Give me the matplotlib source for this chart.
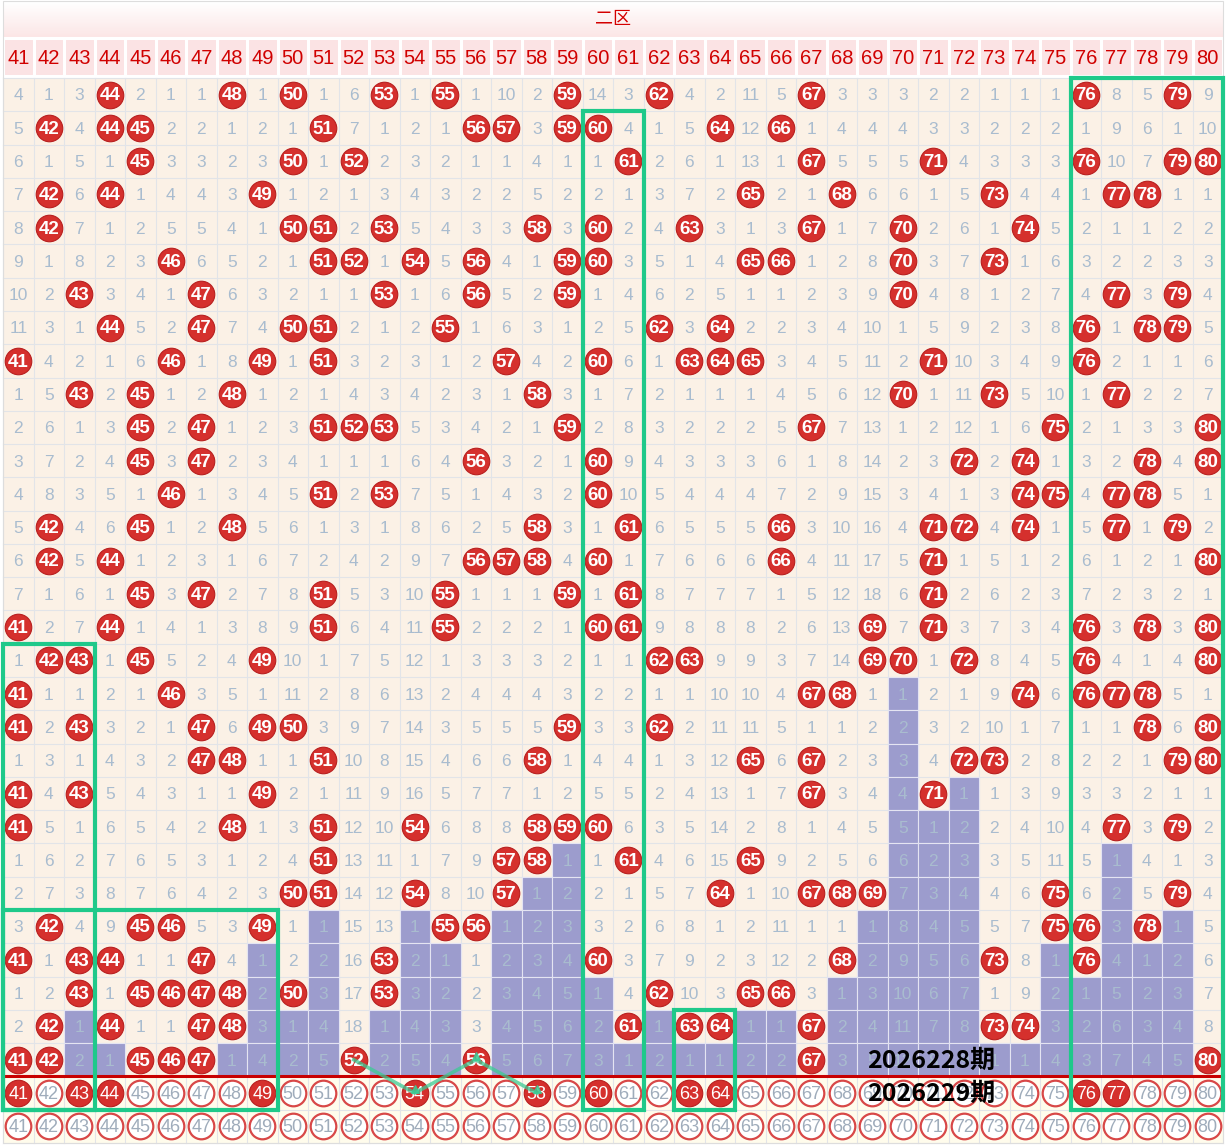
import numpy as np
import matplotlib
matplotlib.use('Agg')
import matplotlib.pyplot as plt
from matplotlib.patches import Rectangle
from matplotlib.colors import LinearSegmentedColormap

# ---------------- data ----------------
NUMBERS = list(range(41, 81))
ZONE_TITLE = '二区'
# omission count of each number just before the first visible draw
PRIOR_MISS = [3, 0, 2, 0, 1, 0, 0, 0, 0, 0,
              0, 5, 0, 0, 0, 0, 9, 1, 0, 13,
              2, 0, 3, 1, 10, 4, 0, 2, 2, 2,
              1, 1, 0, 0, 0, 0, 7, 4, 0, 8]
DRAWS = [
    [44, 48, 50, 53, 55, 59, 62, 67, 76, 79],
    [42, 44, 45, 51, 56, 57, 59, 60, 64, 66],
    [45, 50, 52, 61, 67, 71, 76, 79, 80],
    [42, 44, 49, 65, 68, 73, 77, 78],
    [42, 50, 51, 53, 58, 60, 63, 67, 70, 74],
    [46, 51, 52, 54, 56, 59, 60, 65, 66, 70, 73],
    [43, 47, 53, 56, 59, 70, 77, 79],
    [44, 47, 50, 51, 55, 62, 64, 76, 78, 79],
    [41, 46, 49, 51, 57, 60, 63, 64, 65, 71, 76],
    [43, 45, 48, 58, 70, 73, 77],
    [45, 47, 51, 52, 53, 59, 67, 75, 80],
    [45, 47, 56, 60, 72, 74, 78, 80],
    [46, 51, 53, 60, 74, 75, 77, 78],
    [42, 45, 48, 58, 61, 66, 71, 72, 74, 77, 79],
    [42, 44, 56, 57, 58, 60, 66, 71, 80],
    [45, 47, 51, 55, 59, 61, 71],
    [41, 44, 51, 55, 60, 61, 69, 71, 76, 78, 80],
    [42, 43, 45, 49, 62, 63, 69, 70, 72, 76, 80],
    [41, 46, 67, 68, 74, 76, 77, 78],
    [41, 43, 47, 49, 50, 59, 62, 78, 80],
    [47, 48, 51, 58, 65, 67, 72, 73, 79, 80],
    [41, 43, 49, 67, 71],
    [41, 48, 51, 54, 58, 59, 60, 77, 79],
    [51, 57, 58, 61, 65],
    [50, 51, 54, 57, 64, 67, 68, 69, 75, 79],
    [42, 45, 46, 49, 55, 56, 75, 76, 78],
    [41, 43, 44, 47, 53, 60, 68, 73, 76],
    [43, 45, 46, 47, 48, 50, 53, 62, 65, 66],
    [42, 44, 47, 48, 61, 63, 64, 67, 73, 74],
    [41, 42, 45, 46, 47, 52, 56, 67, 80],
]
NEXT_DRAW = [41, 43, 44, 49, 54, 58, 60, 63, 64, 76, 77]
ISSUE_LABELS = ['2026228期', '2026229期']
LINK_NUMS = [52, 54, 56, 58]
LINK_ROWS = [30, 31, 30, 31]
# highlighted boxes: (first number, last number, first row, last row)
BOXES = [(60, 61, 2, 31), (76, 80, 1, 31), (41, 43, 18, 31),
         (41, 49, 26, 31), (63, 64, 29, 31)]

# ---------------- derived grid ----------------
n_rows = len(DRAWS)
ncol = len(NUMBERS)
miss = np.array(PRIOR_MISS)
vals = np.zeros((n_rows, ncol), int)
hit = np.zeros((n_rows, ncol), bool)
for r, d in enumerate(DRAWS):
    for j, n in enumerate(NUMBERS):
        if n in d:
            miss[j] = 0
            hit[r, j] = True
        else:
            miss[j] += 1
        vals[r, j] = miss[j]
last_hit = [np.where(hit[:, j])[0].max() if hit[:, j].any() else -1 for j in range(ncol)]

# ---------------- styling ----------------
W, H = 1227, 1146
CW, RH = 30.5, 33.28
X0, Y0 = 3, 78
FONT = 'Liberation Sans'
CJK = ['Noto Sans CJK SC', 'DejaVu Sans']
RED = '#D5302D'
GRAY_TXT = '#A9BCCF'
GREEN = '#1FC98A'
LAV = '#9C9CCD'

fig = plt.figure(figsize=(W / 100, H / 100), dpi=100)
fig.patch.set_facecolor('white')
ax = fig.add_axes([0, 0, 1, 1])
ax.axis('off')
xl = (40.5 - X0 / CW, 40.5 + (W - X0) / CW)
yl = (0.5 + (H - Y0) / RH, 0.5 - Y0 / RH)

def py(px):
    return 0.5 + (px - Y0) / RH

first, last = NUMBERS[0] - 0.5, NUMBERS[-1] + 0.5
total_rows = n_rows + 2

# top band gradient
cmap = LinearSegmentedColormap.from_list('band', ['#FFFFFF', '#FCE6E6'])
grad = np.linspace(0, 1, 64).reshape(-1, 1)
ax.imshow(grad, cmap=cmap, extent=(first, last, py(37), py(2)), origin='upper',
          aspect='auto', zorder=0)
ax.text((first + last) / 2, py(19), ZONE_TITLE, ha='center', va='center',
        fontsize=13, color='#D40000', family=CJK, zorder=2)

# column header cells
for n in NUMBERS:
    ax.add_patch(Rectangle((n - 0.5, py(38)), 1, py(76) - py(38), facecolor='#FBE3E4',
                           edgecolor='white', lw=2.2, zorder=1))
    ax.text(n, py(58), str(n), ha='center', va='center', fontsize=14.5,
            color='#D00000', family=FONT, zorder=2)

# body backgrounds
ax.add_patch(Rectangle((first, 0.5), last - first, n_rows, facecolor='#FBF1E6',
                       edgecolor='none', zorder=0))
ax.add_patch(Rectangle((first, n_rows + 0.5), last - first, 2, facecolor='#FFFCEC',
                       edgecolor='none', zorder=0))

# grid lines
for k in range(ncol + 1):
    ax.plot([first + k, first + k], [0.5, total_rows + 0.5], color='#E2E4E8', lw=0.8, zorder=1)
for k in range(total_rows + 1):
    ax.plot([first, last], [0.5 + k, 0.5 + k], color='#E2E4E8', lw=0.8, zorder=1)

# lavender omission bars
for j, n in enumerate(NUMBERS):
    for r in range(last_hit[j] + 1, n_rows):
        ax.add_patch(Rectangle((n - 0.5, r + 0.5), 1, 1, facecolor=LAV,
                               edgecolor='#E4E4F2', lw=0.8, zorder=2))

# cell values
hx, hy, hl = [], [], []
for r in range(n_rows):
    for j, n in enumerate(NUMBERS):
        if hit[r, j]:
            hx.append(n); hy.append(r + 1); hl.append(str(n))
        else:
            ax.text(n, r + 1.04, str(vals[r, j]), ha='center', va='center', fontsize=12.5,
                    color=GRAY_TXT, family=FONT, zorder=3)
ax.scatter(hx, hy, s=365, facecolor=RED, edgecolor='#B81F1F', lw=0.8, zorder=4)
for x, y, t in zip(hx, hy, hl):
    ax.text(x, y + 0.04, t, ha='center', va='center', fontsize=13.5, fontweight='bold',
            color='white', family=FONT, zorder=5)

# bottom two rows of balls
for rr, selected in ((n_rows + 1, NEXT_DRAW), (n_rows + 2, [])):
    for n in NUMBERS:
        if n in selected:
            ax.scatter([n], [rr], s=365, facecolor=RED, edgecolor='#B81F1F', lw=0.8, zorder=4)
            ax.text(n, rr + 0.04, str(n), ha='center', va='center', fontsize=13,
                    color='white', family=FONT, zorder=5)
        else:
            ax.scatter([n], [rr], s=340, facecolor='white', edgecolor='#D84848', lw=1.6, zorder=4)
            ax.text(n, rr + 0.04, str(n), ha='center', va='center', fontsize=13,
                    color='#9FACBB', family=FONT, zorder=5)

# red separator
ax.plot([first, last], [n_rows + 0.5, n_rows + 0.5], color='#C80000', lw=2.2, zorder=5)

# green boxes
for a, b, r1, r2 in BOXES:
    ax.add_patch(Rectangle((a - 0.5, r1 - 0.5), b - a + 1, r2 - r1 + 1, fill=False,
                           edgecolor=GREEN, lw=3, zorder=7))

# link line
ax.plot(LINK_NUMS, LINK_ROWS, color='#3CCB94', alpha=0.75, lw=2.6, zorder=8)
ax.scatter(LINK_NUMS[1:], [y - 0.12 for y in LINK_ROWS[1:]], marker='^', s=30,
           color='#3CCB94', alpha=0.85, zorder=8)

# issue labels
for k, lab in enumerate(ISSUE_LABELS):
    ax.text(70.93, n_rows + k + 0.02, lab, ha='center', va='center', fontsize=18,
            fontweight='bold', color='black', family=CJK, zorder=9)

# outer border
ax.add_patch(Rectangle((first, py(1)), last - first, total_rows + 0.5 - py(1), fill=False,
                       edgecolor='#DDDDDD', lw=0.8, zorder=1))

ax.set_xlim(*xl)
ax.set_ylim(*yl)
fig.savefig('out.png', dpi=100, facecolor='white')
